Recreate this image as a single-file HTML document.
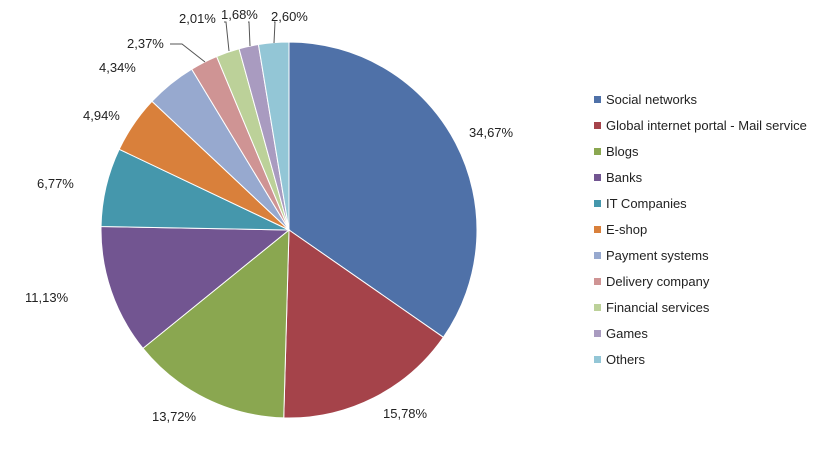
<!DOCTYPE html>
<html><head><meta charset="utf-8"><style>
html,body{margin:0;padding:0;background:#fff;}
svg text{font-family:"Liberation Sans",sans-serif;font-size:13px;fill:#222;}
</style></head><body>
<svg id="s" width="818" height="444" xmlns="http://www.w3.org/2000/svg">
<g id="pie"></g>
<g fill="none" stroke="#555" stroke-width="1">
<polyline points="170,44 182,44 205,62"/>
<polyline points="224,22 226,22 229,51"/>
<polyline points="248,22 249,22 250,46"/>
<polyline points="274,22 275,22 274,43"/>
</g>
<text x="469" y="137">34,67%</text>
<text x="383" y="418">15,78%</text>
<text x="152" y="421">13,72%</text>
<text x="25" y="302">11,13%</text>
<text x="37" y="188">6,77%</text>
<text x="83" y="120">4,94%</text>
<text x="99" y="72">4,34%</text>
<text x="127" y="48">2,37%</text>
<text x="179" y="23">2,01%</text>
<text x="221" y="19">1,68%</text>
<text x="271" y="21">2,60%</text>
<g id="leg"></g>
</svg>
<script>
var vals=[34.67,15.78,13.72,11.13,6.77,4.94,4.34,2.37,2.01,1.68,2.60];
var cols=["#4F71A8","#A5434A","#8AA750","#725591","#4597AC","#D9803B","#97A9CF","#CF9494","#BCD199","#A99BC0","#93C6D6"];
var names=["Social networks","Global internet portal - Mail service","Blogs","Banks","IT Companies","E-shop","Payment systems","Delivery company","Financial services","Games","Others"];
var cx=289,cy=230,r=188,tot=0;vals.forEach(v=>tot+=v);
var a=0,h="",l="";
vals.forEach(function(v,i){
 var a2=a+v/tot*2*Math.PI;
 var x1=cx+r*Math.sin(a),y1=cy-r*Math.cos(a),x2=cx+r*Math.sin(a2),y2=cy-r*Math.cos(a2);
 h+='<path d="M'+cx+','+cy+' L'+x1+','+y1+' A'+r+','+r+' 0 '+((a2-a)>Math.PI?1:0)+' 1 '+x2+','+y2+' Z" fill="'+cols[i]+'" stroke="#fff" stroke-width="1"/>';
 a=a2;
 var y=100+i*26;
 l+='<rect x="594" y="'+(y-4)+'" width="7" height="7" fill="'+cols[i]+'"/><text x="606" y="'+(y+4)+'">'+names[i]+'</text>';
});
document.getElementById("pie").innerHTML=h;
document.getElementById("leg").innerHTML=l;
</script>
</body></html>
